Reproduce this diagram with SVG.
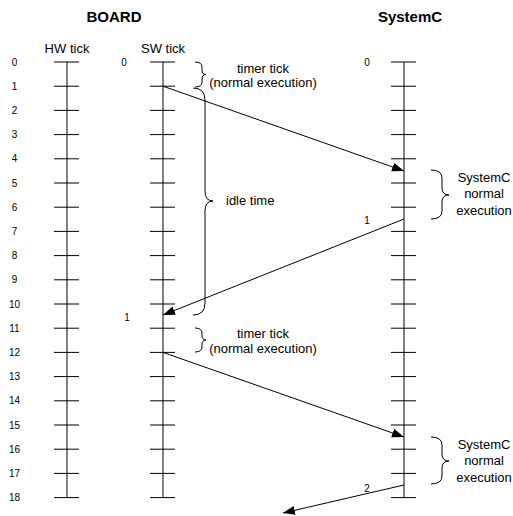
<svg xmlns="http://www.w3.org/2000/svg" xmlns:xlink="http://www.w3.org/1999/xlink" width="513" height="516" viewBox="0 0 513 516">
<style>
.t{font-family:"Liberation Sans",Arial,sans-serif;fill:#000}
.title{font-size:15px;font-weight:bold;text-anchor:middle}
.lbl{font-size:13px;text-anchor:middle}
.num{font-size:10px;text-anchor:middle}
.ax{stroke:#000;stroke-width:1;fill:none}
.br{stroke:#000;stroke-width:1;fill:none}
.arr{stroke:#000;stroke-width:1;fill:none;marker-end:url(#ah)}
</style>
<defs>
<marker id="ah" markerUnits="userSpaceOnUse" markerWidth="13" markerHeight="10" refX="12" refY="4.5" orient="auto">
<path d="M0,0 L12,4.5 L0,9 Z" fill="#000"/>
</marker>
<path id="ruler" class="ax" d="M0,62 V497.6 M-13,62 h25 M-13,86.2 h25 M-13,110.4 h25 M-13,134.6 h25 M-13,158.8 h25 M-13,183 h25 M-13,207.2 h25 M-13,231.4 h25 M-13,255.6 h25 M-13,279.8 h25 M-13,304 h25 M-13,328.2 h25 M-13,352.4 h25 M-13,376.6 h25 M-13,400.8 h25 M-13,425 h25 M-13,449.2 h25 M-13,473.4 h25 M-13,497.6 h25"/>
</defs>

<g id="titles">
<text class="t title" x="114" y="21.5">BOARD</text>
<text class="t title" x="410" y="21.5">SystemC</text>
</g>

<g id="scale" class="t num">
<text x="14.5" y="65.5">0</text>
<text x="14.5" y="89.7">1</text>
<text x="14.5" y="113.9">2</text>
<text x="14.5" y="138.1">3</text>
<text x="14.5" y="162.3">4</text>
<text x="14.5" y="186.5">5</text>
<text x="14.5" y="210.7">6</text>
<text x="14.5" y="234.9">7</text>
<text x="14.5" y="259.1">8</text>
<text x="14.5" y="283.3">9</text>
<text x="14.5" y="307.5">10</text>
<text x="14.5" y="331.7">11</text>
<text x="14.5" y="355.9">12</text>
<text x="14.5" y="380.1">13</text>
<text x="14.5" y="404.3">14</text>
<text x="14.5" y="428.5">15</text>
<text x="14.5" y="452.7">16</text>
<text x="14.5" y="476.9">17</text>
<text x="14.5" y="501.1">18</text>
</g>

<g id="hw-tick">
<text class="t lbl" x="67" y="52.5">HW tick</text>
<use xlink:href="#ruler" href="#ruler" transform="translate(67,0)"/>
</g>

<g id="sw-tick">
<text class="t lbl" x="163" y="52.5">SW tick</text>
<text class="t num" x="124" y="65.5">0</text>
<use xlink:href="#ruler" href="#ruler" transform="translate(163,0)"/>
</g>

<g id="systemc">
<text class="t num" x="367" y="65.5">0</text>
<use xlink:href="#ruler" href="#ruler" transform="translate(404,0)"/>
</g>

<g id="timer-tick-1">
<path class="br" d="M195,62 Q202,62 202,67 L202,70 Q202,74.5 206,74.5 Q202,74.5 202,79 L202,82 Q202,87 195,87"/>
<text class="t lbl" x="263" y="72.5">timer tick</text>
<text class="t lbl" x="263" y="86.5">(normal execution)</text>
</g>

<g id="idle-time">
<path class="br" d="M193,88 Q205,88 205,100 L205,191 Q205,201 213,201 Q205,201 205,211 L205,303 Q205,315 193,315"/>
<text class="t lbl" x="226" y="205" style="text-anchor:start">idle time</text>
</g>

<g id="timer-tick-2">
<path class="br" d="M195,328 Q202,328 202,333 L202,335 Q202,340 206,340 Q202,340 202,345 L202,347 Q202,352 195,352"/>
<text class="t lbl" x="263" y="337.5">timer tick</text>
<text class="t lbl" x="263" y="352.5">(normal execution)</text>
</g>

<g id="systemc-exec-1">
<path class="br" d="M431,170 Q442,170 442,178 L442,188 Q442,195 449,195 Q442,195 442,202 L442,211 Q442,219 431,219"/>
<text class="t lbl" x="484" y="181.5">SystemC</text>
<text class="t lbl" x="484" y="198">normal</text>
<text class="t lbl" x="484" y="214.5">execution</text>
</g>

<g id="systemc-exec-2">
<path class="br" d="M431,437 Q442,437 442,445 L442,454 Q442,461 449,461 Q442,461 442,468 L442,476 Q442,484 431,484"/>
<text class="t lbl" x="484" y="448.5">SystemC</text>
<text class="t lbl" x="484" y="465">normal</text>
<text class="t lbl" x="484" y="481.5">execution</text>
</g>

<g id="connectors">
<line class="arr" x1="163" y1="86.2" x2="404" y2="171"/>
<line class="arr" x1="404" y1="219" x2="163" y2="315"/>
<line class="arr" x1="163" y1="352.4" x2="404" y2="437"/>
<line class="arr" x1="404" y1="485" x2="283" y2="513"/>
<text class="t num" x="367" y="224">1</text>
<text class="t num" x="127" y="321">1</text>
<text class="t num" x="367" y="491.5">2</text>
</g>
</svg>
